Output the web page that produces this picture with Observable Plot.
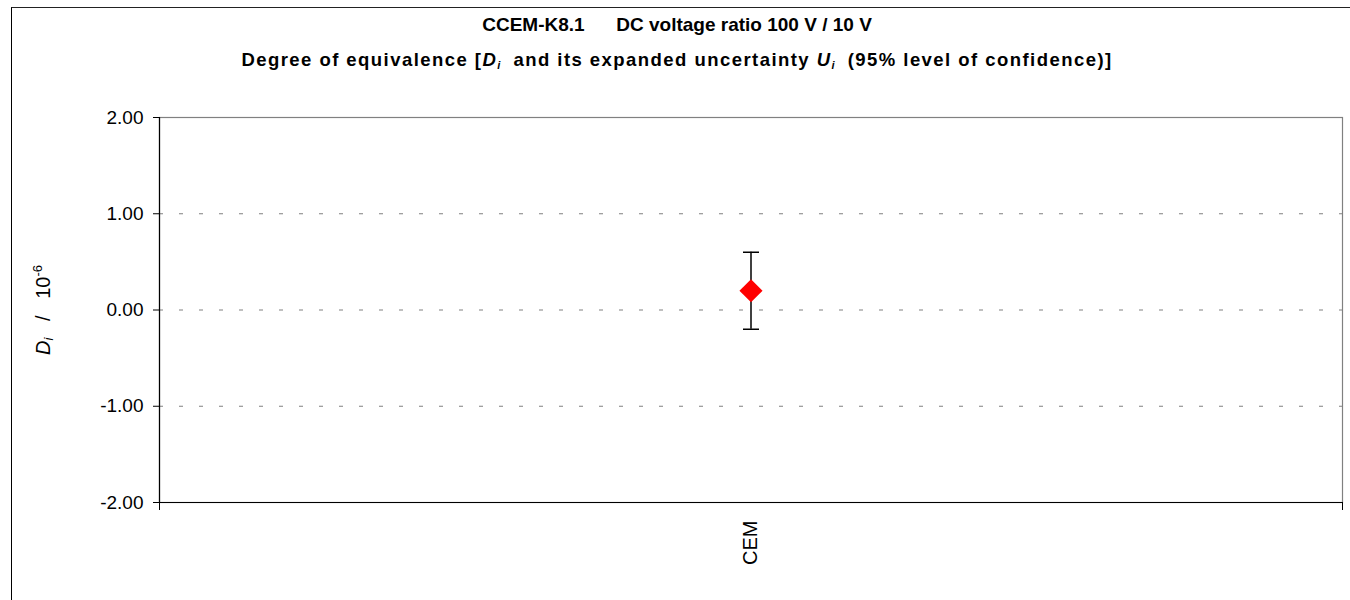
<!DOCTYPE html>
<html>
<head>
<meta charset="utf-8">
<script src="https://cdn.jsdelivr.net/npm/d3@7"></script>
<script src="https://cdn.jsdelivr.net/npm/@observablehq/plot@0.6"></script>
<style>
  body { margin: 0; background: #fff; font-family: "Liberation Sans", Arial, sans-serif; }
  #outer { position: absolute; left: 11px; top: 7px; width: 1400px; height: 700px; border-left: 1px solid #000; border-top: 1.5px solid #222; }
  #chart { position: absolute; left: 0; top: 0; }
  .t { position: absolute; left: 0; width: 1354px; text-align: center; font-weight: bold; color: #000; white-space: pre; line-height: 22px; }
  #t1 { top: 14px; font-size: 19px; }
  #t2 { top: 49px; font-size: 18.5px; letter-spacing: 1.45px; }
  sub { font-size: 11px; vertical-align: -3px; letter-spacing: 0; }
</style>
</head>
<body>
<div id="outer"></div>
<div id="chart"></div>
<div class="t" id="t1">CCEM-K8.1      DC voltage ratio 100 V / 10 V</div>
<div class="t" id="t2">Degree of equivalence [<i>D</i><sub><i>i</i></sub>  and its expanded uncertainty <i>U</i><sub><i>i</i></sub>  (95% level of confidence)]</div>
<script>
const categories = ["CEM"];
const di = [0.2];
const ui = [0.4];
const yTicks = [-2, -1, 0, 1, 2];
const gridTicks = [-1, 0, 1];

const data = categories.map((c, i) => ({cat: c, pos: i + 0.5, d: di[i], lo: di[i] - ui[i], hi: di[i] + ui[i]}));

const cap = {draw(ctx, size) { const w = Math.sqrt(size / Math.PI); ctx.moveTo(-w, 0); ctx.lineTo(w, 0); }};
const fmt = v => v.toFixed(2);

const chart = Plot.plot({
  width: 1350, height: 600,
  marginLeft: 159, marginRight: 8, marginTop: 117, marginBottom: 98,
  style: {background: "transparent", color: "#000", fontFamily: "'Liberation Sans', Arial, sans-serif", overflow: "visible"},
  x: {domain: [0, categories.length], axis: null, label: null},
  y: {domain: [-2, 2], axis: null, label: null},
  marks: [
    Plot.gridY(gridTicks, {stroke: "#808080", strokeOpacity: 1, strokeDasharray: "4,16", strokeWidth: 1.2}),
    Plot.frame({stroke: "#808080", strokeWidth: 1.2}),
    Plot.axisY({ticks: yTicks, tickFormat: fmt, tickSize: 6, tickPadding: 10, fontSize: 19, label: null, anchor: "left"}),
    Plot.ruleX([0], {stroke: "#000", strokeWidth: 1.2}),
    Plot.ruleY([-2], {stroke: "#000", strokeWidth: 1.2}),
    Plot.axisX({ticks: d3.range(categories.length + 1), tickSize: 8, tickFormat: () => "", label: null, anchor: "bottom"}),
    Plot.axisX({ticks: categories.map((c, i) => i + 0.5), tickFormat: v => categories[Math.floor(v)], tickSize: 0, tickRotate: -90, tickPadding: 18, fontSize: 20, label: null, anchor: "bottom"}),
    Plot.ruleX(data, {x: "pos", y1: "lo", y2: "hi", stroke: "#000", strokeWidth: 1.5}),
    Plot.dot(data, {x: "pos", y: "lo", symbol: cap, r: 8, stroke: "#000", strokeWidth: 1.5, fill: "none"}),
    Plot.dot(data, {x: "pos", y: "hi", symbol: cap, r: 8, stroke: "#000", strokeWidth: 1.5, fill: "none"}),
    Plot.dot(data, {x: "pos", y: "d", symbol: "diamond2", r: 10.4, fill: "#ff0000", stroke: "none"})
  ]
});
document.getElementById("chart").appendChild(chart);

// y-axis title with italic subscript and superscript
const svg = d3.select(chart);
const yl = svg.append("text")
  .attr("transform", "translate(50,310) rotate(-90)")
  .attr("text-anchor", "middle")
  .attr("font-size", 20)
  .attr("fill", "#000")
  .style("white-space", "pre");
yl.append("tspan").attr("font-style", "italic").text("D");
yl.append("tspan").attr("font-style", "italic").attr("font-size", 13).attr("dy", 3).text("i");
yl.append("tspan").attr("dy", -3).text("\u00a0\u00a0\u00a0/\u00a0\u00a0\u00a010");
yl.append("tspan").attr("font-size", 13).attr("dy", -8).text("-6");
</script>
</body>
</html>
